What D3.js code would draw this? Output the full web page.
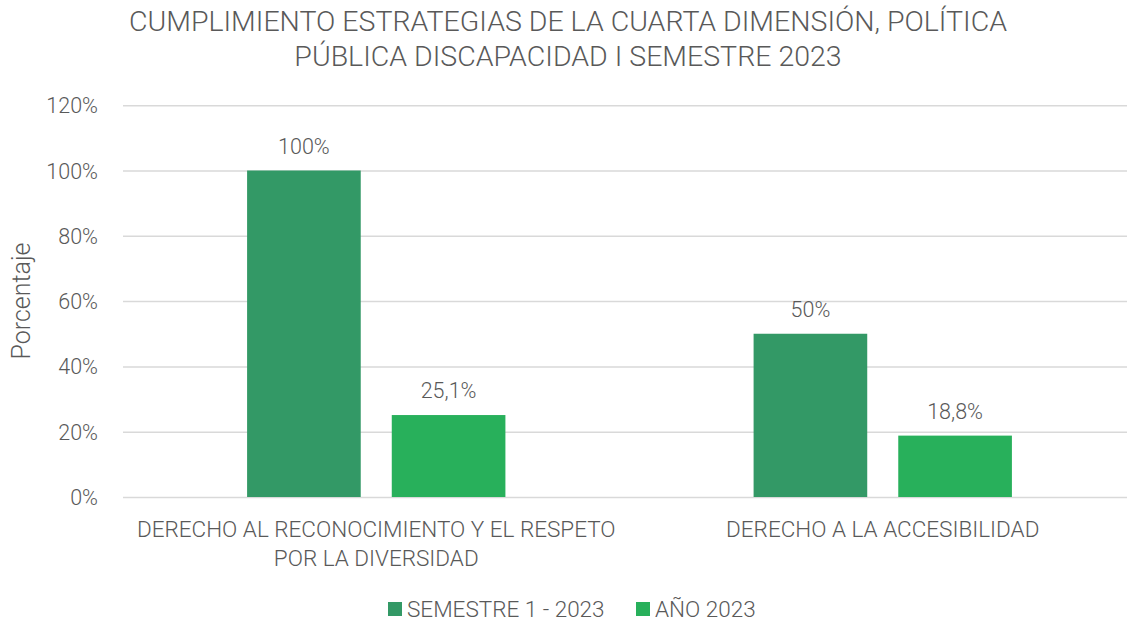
<!DOCTYPE html>
<html lang="es">
<head>
<meta charset="UTF-8">
<title>Cumplimiento estrategias</title>
<script src="https://d3js.org/d3.v7.min.js"></script>
<style>
  body { margin: 0; background: #fff; }
  svg { display: block; }
  text { font-family: Roboto, "Open Sans", sans-serif; font-weight: 300; fill: #595959; }
</style>
</head>
<body>
<svg id="chart" width="1127" height="623"></svg>
<script>
const categories = [
  ["DERECHO AL RECONOCIMIENTO Y EL RESPETO", "POR LA DIVERSIDAD"],
  ["DERECHO A LA ACCESIBILIDAD"]
];
const seriesNames = ["SEMESTRE 1 - 2023", "AÑO 2023"];
const semestre = [1.00, 0.50];
const anio = [0.251, 0.188];
const valueLabels = [["100%", "50%"], ["25,1%", "18,8%"]];
const yTicks = [0, 0.2, 0.4, 0.6, 0.8, 1.0, 1.2];
const titleLines = ["CUMPLIMIENTO ESTRATEGIAS DE LA CUARTA DIMENSIÓN, POLÍTICA", "PÚBLICA DISCAPACIDAD I SEMESTRE 2023"];
const colors = ["#339966", "#28b05b"];

const svg = d3.select("#chart");
const catIdx = d3.range(categories.length);

const x0 = d3.scaleBand().domain(catIdx).range([123, 1136])
  .paddingInner(0.49).paddingOuter(0.245);
const x1 = d3.scaleBand().domain([0, 1]).range([0, x0.bandwidth()])
  .paddingInner(0.2145);
const y = d3.scaleLinear().domain([0, 1.2]).range([497, 105.2]);

// title
svg.append("g").selectAll("text").data(titleLines).join("text")
  .attr("x", 568).attr("y", (d, i) => 31 + i * 35)
  .attr("text-anchor", "middle").style("font-size", "28.5px")
  .text(d => d);

// gridlines + y ticks
const yAxis = d3.axisLeft(y).tickValues(yTicks).tickSize(-1013)
  .tickFormat(d => Math.round(d * 100) + "%");
const gy = svg.append("g").attr("transform", "translate(123,0)").call(yAxis);
gy.select(".domain").remove();
gy.selectAll(".tick line").attr("stroke", "#d9d9d9").attr("stroke-width", 1.5);
gy.selectAll(".tick text").attr("x", -25).attr("dy", "0.35em")
  .style("font-size", "21.5px").attr("fill", "#595959");

svg.append("text")
  .attr("transform", "translate(30,301) rotate(-90)")
  .attr("text-anchor", "middle").style("font-size", "25px")
  .text("Porcentaje");

// bars
const rows = catIdx.map(i => ({ i, vals: [semestre[i], anio[i]] }));
const groups = svg.append("g").selectAll("g").data(rows).join("g")
  .attr("transform", d => `translate(${x0(d.i)},0)`);

groups.selectAll("rect").data(d => d.vals.map((v, s) => ({ v, s, i: d.i }))).join("rect")
  .attr("x", d => x1(d.s)).attr("width", x1.bandwidth())
  .attr("y", d => y(d.v)).attr("height", d => y(0) - y(d.v))
  .attr("fill", d => colors[d.s]);

groups.selectAll("text.val").data(d => d.vals.map((v, s) => ({ v, s, i: d.i }))).join("text")
  .attr("class", "val")
  .attr("x", d => x1(d.s) + x1.bandwidth() / 2)
  .attr("y", d => y(d.v) - 17)
  .attr("text-anchor", "middle").style("font-size", "21.5px")
  .text(d => valueLabels[d.s][d.i]);

// category labels
svg.append("g").selectAll("text").data(rows).join("text")
  .attr("x", d => x0(d.i) + x0.bandwidth() / 2)
  .attr("y", 537)
  .attr("text-anchor", "middle").style("font-size", "22.5px")
  .selectAll("tspan").data(d => categories[d.i]).join("tspan")
  .attr("x", function () { return this.parentNode.getAttribute("x"); })
  .attr("dy", (d, i) => i === 0 ? 0 : 29)
  .text(d => d);

// legend
const legendX = [388, 636];
const leg = svg.append("g").selectAll("g").data(seriesNames).join("g")
  .attr("transform", (d, i) => `translate(${legendX[i]},602)`);
leg.append("rect").attr("width", 14).attr("height", 14).attr("fill", (d, i) => colors[i]);
leg.append("text").attr("x", 19).attr("y", 7).attr("dy", "0.36em")
  .style("font-size", "22.5px").text(d => d);
</script>
</body>
</html>
